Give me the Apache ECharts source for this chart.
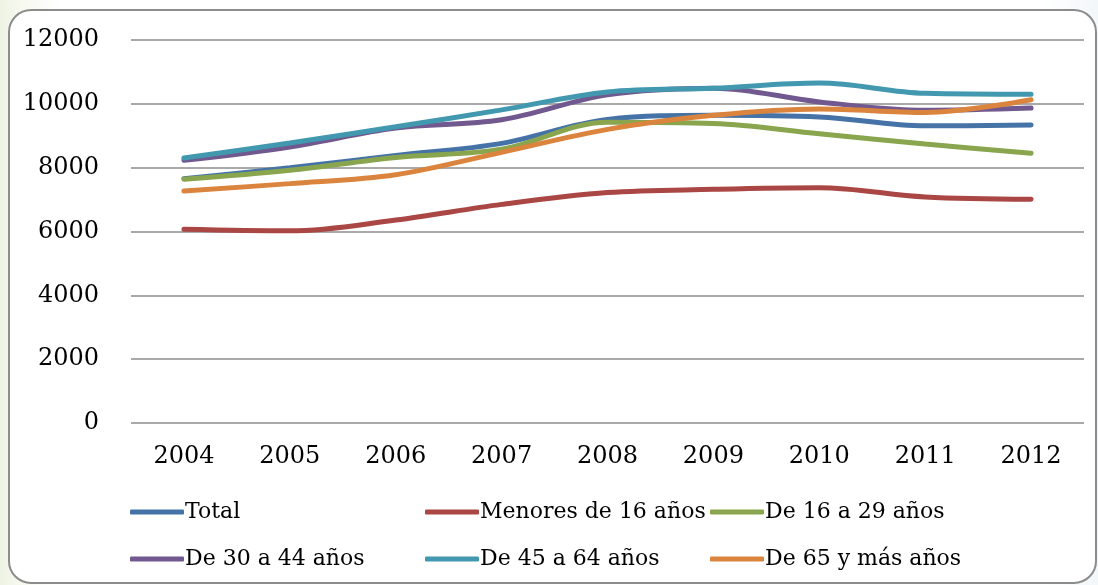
<!DOCTYPE html>
<html>
<head>
<meta charset="utf-8">
<script src="https://cdn.jsdelivr.net/npm/echarts@6/dist/echarts.min.js"></script>
<style>
html,body{margin:0;padding:0;width:1098px;height:585px;overflow:hidden;
background:linear-gradient(90deg,#eef3e4 0px,#f7f8ee 20px,#ffffff 60px,#ffffff 1040px,#f3f7fa 1098px);}
#c{width:1098px;height:585px;}
</style>
</head>
<body>
<div id="c"></div>
<script>
const years = ['2004','2005','2006','2007','2008','2009','2010','2011','2012'];
const total     = [7650, 8000, 8380, 8760, 9510, 9640, 9590, 9310, 9340];
const menores16 = [6070, 6020, 6360, 6850, 7220, 7320, 7370, 7080, 7010];
const de16a29   = [7640, 7920, 8320, 8580, 9420, 9380, 9060, 8740, 8450];
const de30a44   = [8230, 8650, 9240, 9500, 10280, 10490, 10060, 9800, 9870];
const de45a64   = [8300, 8770, 9280, 9810, 10370, 10490, 10650, 10330, 10300];
const de65      = [7270, 7500, 7780, 8480, 9200, 9640, 9840, 9730, 10130];
const yTicks = [0, 2000, 4000, 6000, 8000, 10000, 12000];

const names = ['Total','Menores de 16 años','De 16 a 29 años','De 30 a 44 años','De 45 a 64 años','De 65 y más años'];
const colors = ['#4572A7','#AA4643','#89A54E','#71588F','#4198AF','#DB843D'];
const datasets = [total, menores16, de16a29, de30a44, de45a64, de65];

const font = 'DejaVu Serif';
const chart = echarts.init(document.getElementById('c'), null, {renderer:'canvas'});

function legendCol(left, items){
  return {
    orient:'vertical', left:left, top:499, padding:0,
    data: items.map(n=>({name:n, icon:'roundRect'})),
    itemWidth:54, itemHeight:5, itemGap:21,
    selectedMode:false,
    textStyle:{fontFamily:font, fontSize:22, color:'#000', lineHeight:26, padding:[0,0,0,-4]}
  };
}

chart.setOption({
  animation:false,
  backgroundColor:'transparent',
  color: colors,
  graphic:[{
    type:'rect', silent:true, z:-10,
    shape:{x:9, y:10, width:1087, height:573, r:22},
    style:{fill:'#ffffff', stroke:'#8c8c8c', lineWidth:2}
  }],
  grid:{left:131, right:14, top:40, bottom:162, containLabel:false},
  legend:[
    legendCol(130, [names[0], names[3]]),
    legendCol(425, [names[1], names[4]]),
    legendCol(710, [names[2], names[5]])
  ],
  xAxis:{
    type:'category', data:years, boundaryGap:true,
    axisLine:{show:false}, axisTick:{show:false},
    axisLabel:{fontFamily:font, fontSize:24, color:'#000', margin:22}
  },
  yAxis:{
    type:'value', min:0, max:12000, interval:2000,
    axisLine:{show:false}, axisTick:{show:false},
    axisLabel:{fontFamily:font, fontSize:24, color:'#000', margin:32,
      formatter: v => yTicks.includes(v) ? String(v) : ''},
    splitLine:{lineStyle:{color:'#8c8c8c', width:1.5}}
  },
  series: names.map((n,i)=>({
    name:n, type:'line', data:datasets[i], smooth:0.35,
    showSymbol:false, symbol:'none',
    lineStyle:{width:5, color:colors[i], cap:'round'},
    itemStyle:{color:colors[i]}
  }))
});
</script>
</body>
</html>
